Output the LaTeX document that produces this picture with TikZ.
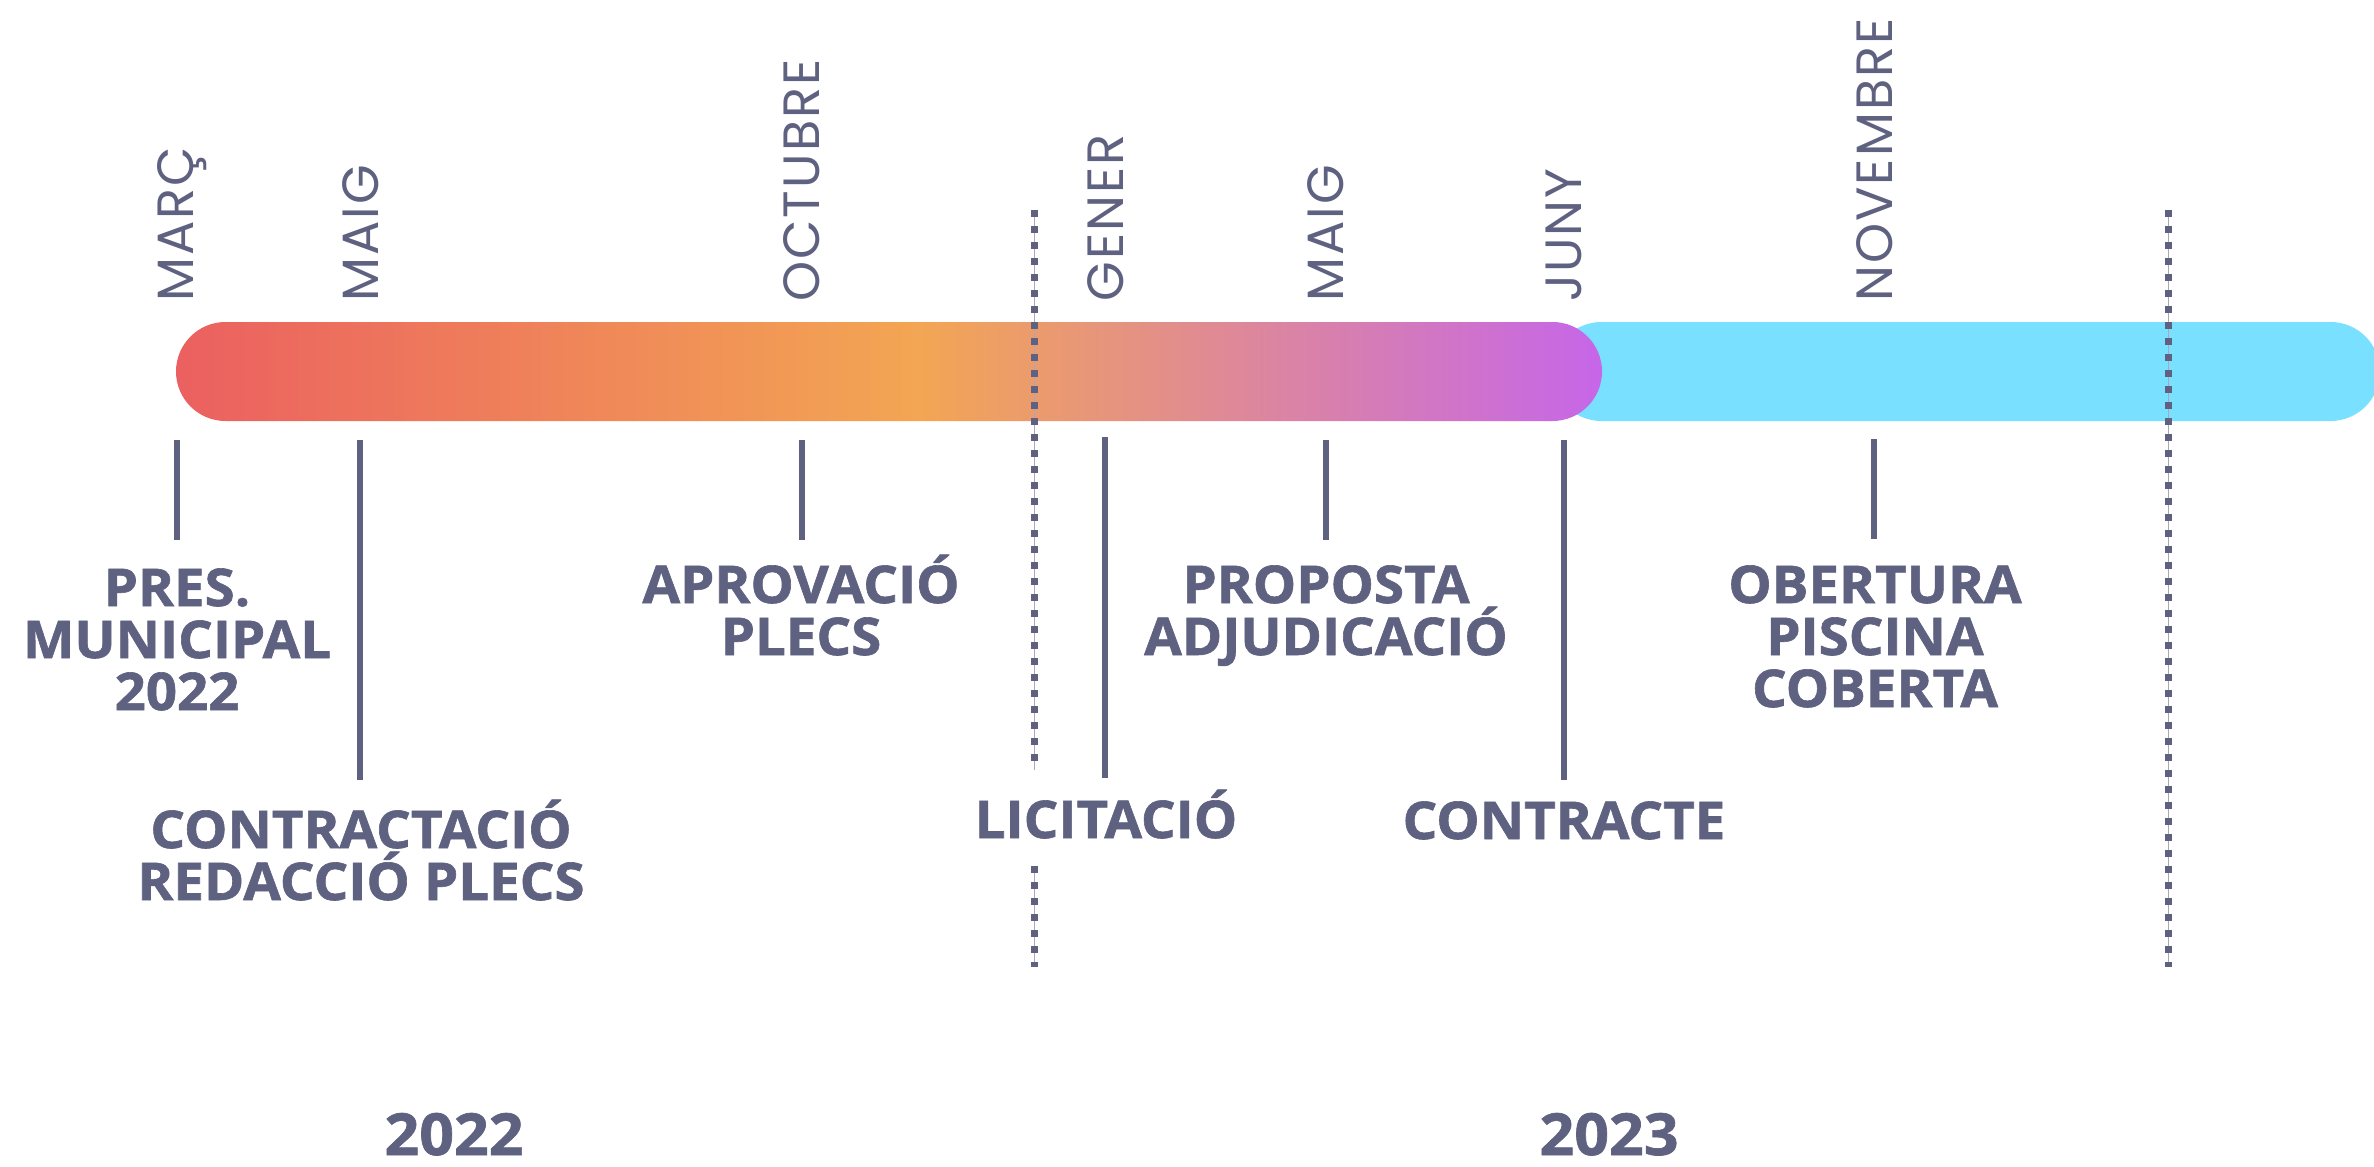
\documentclass[tikz,border=0pt]{standalone}
\usepackage{fontspec}
\setmainfont{Open Sans}
\newfontfamily\monthfont{Poppins}[LetterSpace=4]
\newfontfamily\labelfont{Open Sans}[BoldFeatures={FakeBold=1.2, FakeStretch=1.05}]
\definecolor{ink}{HTML}{5F6181}
\definecolor{cA}{HTML}{EB6060}
\definecolor{cB}{HTML}{F3A653}
\definecolor{cC}{HTML}{C666E9}
\definecolor{sky}{HTML}{7AE0FF}
\pgfdeclarehorizontalshading{bargrad}{100bp}{color(0bp)=(cA); color(25bp)=(cA); color(51bp)=(cB); color(75bp)=(cC); color(100bp)=(cC)}
\begin{document}
\begin{tikzpicture}[x=0.5pt,y=-0.5pt,
  month/.style={font=\monthfont\fontsize{25.5pt}{25.5pt}\selectfont, text=ink, inner sep=0pt, anchor=base west, rotate=90},
  lab/.style={font=\labelfont\bfseries\fontsize{26pt}{26pt}\selectfont, text=ink, align=center, inner sep=0pt, anchor=base},
  year/.style={font=\labelfont\bfseries\fontsize{29pt}{29pt}\selectfont, text=ink, inner sep=0pt, anchor=base},
  tickline/.style={draw=ink, line width=3pt},
  dotline/.style={draw=ink, line width=3.5pt, dash pattern=on 3.5pt off 4.5pt},
  thinline/.style={draw=ink!55, line width=0.5pt}]
\useasboundingbox (0,0) rectangle (2374,1167);
% bars
\fill[sky, rounded corners=24.75pt] (1552,322) rectangle (2380,421);
\shade[shading=bargrad, rounded corners=24.75pt] (176,322) rectangle (1602,421);
% dashed separators
\coordinate (d1a) at (1034,210); \coordinate (d1b) at (1034,770);
\coordinate (d1c) at (1034,866); \coordinate (d1d) at (1034,967);
\coordinate (d2a) at (2168,210); \coordinate (d2b) at (2168,967);
\path[thinline] (d1a) -- (d1b) (d1c) -- (d1d) (d2a) -- (d2b);
\path[dotline] (d1a) -- (d1b) (d1c) -- (d1d) (d2a) -- (d2b);
% month labels
\node[month] (mMarc) at (193,302) {MARÇ};
\node[month] (mMaig) at (378,302) {MAIG};
\node[month] (mOct) at (819,302) {OCTUBRE};
\node[month] (mGen) at (1123,302) {GENER};
\node[month] (mMaigB) at (1343,302) {MAIG};
\node[month] (mJuny) at (1581,302) {JUNY};
\node[month] (mNov) at (1892,302) {NOVEMBRE};
% ticks
\coordinate (t1a) at (177,440);  \coordinate (t1b) at (177,540);
\coordinate (t2a) at (360,440);  \coordinate (t2b) at (360,780);
\coordinate (t3a) at (802,440);  \coordinate (t3b) at (802,540);
\coordinate (t4a) at (1105,437); \coordinate (t4b) at (1105,778);
\coordinate (t5a) at (1326,440); \coordinate (t5b) at (1326,540);
\coordinate (t6a) at (1564,440); \coordinate (t6b) at (1564,780);
\coordinate (t7a) at (1874,439); \coordinate (t7b) at (1874,539);
\foreach \t in {1,...,7} {\path[tickline] (t\t a) -- (t\t b);}
% event labels (anchor = baseline of last line)
\node[lab] (ePres) at (177,710) {PRES.\\MUNICIPAL\\2022};
\node[lab] (eContr) at (361,900) {CONTRACTACIÓ\\REDACCIÓ PLECS};
\node[lab] (eAprov) at (801,655) {APROVACIÓ\\PLECS};
\node[lab] (eLicit) at (1106,838) {LICITACIÓ};
\node[lab] (eProp) at (1326,655) {PROPOSTA\\ADJUDICACIÓ};
\node[lab] (eContracte) at (1564,839) {CONTRACTE};
\node[lab] (eObert) at (1875,707) {OBERTURA\\PISCINA\\COBERTA};
% years
\node[year] (y22) at (454,1155) {2022};
\node[year] (y23) at (1609,1155) {2023};
\end{tikzpicture}
\end{document}
